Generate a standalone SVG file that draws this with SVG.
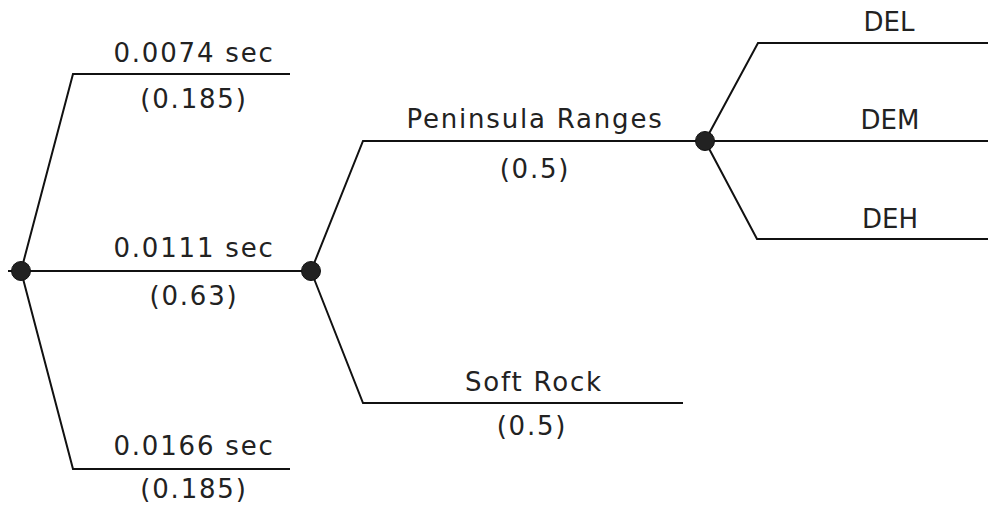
<svg xmlns="http://www.w3.org/2000/svg" width="988" height="512" viewBox="0 0 988 512">
<style>
.e{fill:none;stroke:#111;stroke-width:2;stroke-linejoin:miter}
.n{fill:#222;stroke:#111;stroke-width:1}
text{font-family:"DejaVu Sans","Liberation Sans",sans-serif;font-size:26px;fill:#222;text-anchor:middle;letter-spacing:1.8px}
text.c{letter-spacing:0}
</style>
<rect width="988" height="512" fill="#fff"/>
<g id="connectors">
<polyline class="e" points="21,271 73,74 290,74"/>
<polyline class="e" points="8,271 311,271"/>
<polyline class="e" points="21,271 73,469 290,469"/>
<polyline class="e" points="311,271 363,141 705,141"/>
<polyline class="e" points="311,271 363,403 683,403"/>
<polyline class="e" points="705,141 758,43 988,43"/>
<polyline class="e" points="705,141 988,141"/>
<polyline class="e" points="705,141 757,239 988,239"/>
</g>
<g id="root"><circle class="n" cx="21" cy="271" r="9.5"/></g>
<g id="node-period"><circle class="n" cx="311" cy="271" r="9.5"/></g>
<g id="node-site"><circle class="n" cx="705" cy="141" r="9.5"/></g>
<g id="label-0074"><text x="194" y="62">0.0074 sec</text><text x="194" y="108">(0.185)</text></g>
<g id="label-0111"><text x="194" y="257">0.0111 sec</text><text x="194" y="305">(0.63)</text></g>
<g id="label-0166"><text x="194" y="455">0.0166 sec</text><text x="194" y="498">(0.185)</text></g>
<g id="label-peninsula"><text x="535" y="128">Peninsula Ranges</text><text x="535" y="178">(0.5)</text></g>
<g id="label-softrock"><text x="534" y="391">Soft Rock</text><text x="532" y="435">(0.5)</text></g>
<g id="label-del"><text class="c" x="889" y="31">DEL</text></g>
<g id="label-dem"><text class="c" x="890" y="129">DEM</text></g>
<g id="label-deh"><text class="c" x="890" y="228">DEH</text></g>
</svg>
